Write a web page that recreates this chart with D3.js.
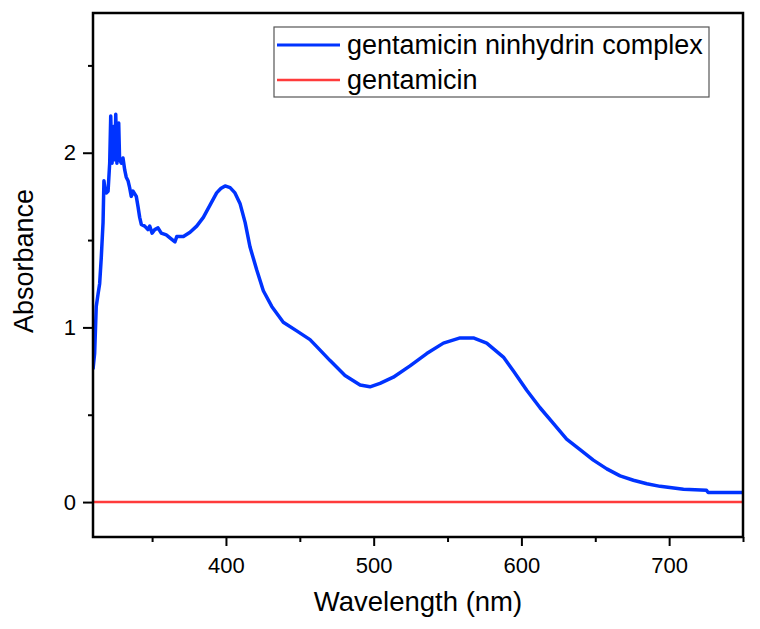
<!DOCTYPE html>
<html>
<head>
<meta charset="utf-8">
<script src="https://cdn.jsdelivr.net/npm/d3@7"></script>
<style>
  html, body { margin: 0; padding: 0; background: #fff; }
  svg { display: block; font-family: "Liberation Sans", Arial, sans-serif; }
</style>
</head>
<body>
<svg id="chart" width="760" height="629"></svg>
<script>
// ---- data ----
const wavelength = [310, 311.1, 312.2, 313.4, 314.5, 315.6, 316.8, 317.4, 318.3, 319, 320.2, 321.3, 322, 322.9, 323.8,
  324.7, 325.4, 326.2, 327.4, 328, 329.2, 330.3, 331.5, 332.5, 333.7, 334.8, 335.9, 337.1, 339.3, 340.5, 341.6,
  342.7, 345, 347.2, 348.4, 350, 351.8, 354, 356.2, 359.6, 362.5, 365.5, 366.7, 371.2, 375.7, 380.2, 384.7, 389.2,
  393.7, 396.5, 399.4, 402.8, 406.1, 409.5, 413, 416.3, 420.8, 425.3, 431, 438.8, 447.9, 456.9, 462.6, 470.5,
  480.6, 490.8, 497.5, 504.3, 513.3, 524.6, 535.9, 547.2, 558.5, 567.5, 576.5, 587.8, 594.6, 603.6, 612.6,
  621.6, 630.6, 639.7, 648.7, 657.8, 666.8, 675.8, 684.9, 693.9, 709.7, 725.3, 726.4, 750];
const complexAbs = [0.76, 0.85, 1.12, 1.19, 1.25, 1.40, 1.60, 1.84, 1.78, 1.77, 1.78, 1.94, 2.21, 1.94, 2.15,
  1.96, 2.22, 1.94, 2.17, 1.96, 1.94, 1.97, 1.90, 1.86, 1.84, 1.80, 1.75, 1.78, 1.75, 1.69, 1.63,
  1.59, 1.58, 1.56, 1.58, 1.54, 1.56, 1.57, 1.54, 1.53, 1.51, 1.49, 1.52, 1.52, 1.545, 1.58, 1.63, 1.70,
  1.77, 1.795, 1.81, 1.80, 1.77, 1.71, 1.60, 1.46, 1.33, 1.21, 1.12, 1.03, 0.98, 0.93, 0.88, 0.81,
  0.725, 0.67, 0.66, 0.68, 0.715, 0.78, 0.85, 0.91, 0.94, 0.94, 0.91, 0.83, 0.75, 0.64, 0.54,
  0.45, 0.36, 0.30, 0.24, 0.19, 0.15, 0.125, 0.105, 0.09, 0.073, 0.067, 0.055, 0.055];
const gentamicinWl = [310, 750];
const gentamicinAbs = [0, 0];
const seriesNames = ["gentamicin ninhydrin complex", "gentamicin"];
const seriesColors = ["#0033ff", "#ff3b3b"];
const xMajorTicks = [400, 500, 600, 700];
const xMinorTicks = [350, 450, 550, 650, 750];
const yMajorTicks = [0, 1, 2];
const yMinorTicks = [0.5, 1.5, 2.5];
const xLabel = "Wavelength (nm)";
const yLabel = "Absorbance";

// ---- layout ----
const svg = d3.select("#chart");
const L = 93, R = 743, T = 13, B = 537;
const x = d3.scaleLinear().domain([310, 750]).range([L, R]);
const y = d3.scaleLinear().domain([-0.2, 2.8]).range([B, T]);

const plot = svg.append("g");
plot.append("defs").append("clipPath").attr("id", "clip")
  .append("rect").attr("x", L).attr("y", T).attr("width", R - L).attr("height", B - T);

const line = d3.line().x(d => x(d[0])).y(d => y(d[1]));
const complexData = wavelength.map((w, i) => [w, complexAbs[i]]);
const gentData = gentamicinWl.map((w, i) => [w, gentamicinAbs[i]]);

plot.append("path").datum(gentData).attr("clip-path", "url(#clip)")
  .attr("fill", "none").attr("stroke", seriesColors[1]).attr("stroke-width", 2.5).attr("d", line);
plot.append("path").datum(complexData).attr("clip-path", "url(#clip)")
  .attr("fill", "none").attr("stroke", seriesColors[0]).attr("stroke-width", 3.5)
  .attr("stroke-linejoin", "round").attr("d", line);

// axes
const fontTick = 22;
const xAxis = d3.axisBottom(x).tickValues(xMajorTicks).tickSize(9).tickPadding(11).tickFormat(d3.format("d"));
const xMinor = d3.axisBottom(x).tickValues(xMinorTicks).tickSize(5).tickFormat("");
const yAxis = d3.axisLeft(y).tickValues(yMajorTicks).tickSize(10).tickPadding(7).tickFormat(d3.format("d"));
const yMinor = d3.axisLeft(y).tickValues(yMinorTicks).tickSize(5).tickFormat("");

function styleAxis(g) {
  g.select(".domain").remove();
  g.selectAll("line").attr("stroke", "#000").attr("stroke-width", 2);
  g.selectAll("text").attr("font-size", fontTick).attr("fill", "#000")
    .attr("font-family", "'Liberation Sans', Arial, sans-serif");
}
svg.append("g").attr("transform", `translate(0,${B})`).call(xAxis).call(styleAxis);
svg.append("g").attr("transform", `translate(0,${B})`).call(xMinor).call(styleAxis);
svg.append("g").attr("transform", `translate(${L},0)`).call(yAxis).call(styleAxis);
svg.append("g").attr("transform", `translate(${L},0)`).call(yMinor).call(styleAxis);

// frame
svg.append("rect").attr("x", L).attr("y", T).attr("width", R - L).attr("height", B - T)
  .attr("fill", "none").attr("stroke", "#000").attr("stroke-width", 2.5);

// axis titles
svg.append("text").attr("x", (L + R) / 2).attr("y", 611).attr("text-anchor", "middle")
  .attr("font-size", 27.5).text(xLabel);
svg.append("text").attr("transform", `translate(33,${261}) rotate(-90)`).attr("text-anchor", "middle")
  .attr("font-size", 27).text(yLabel);

// legend
const lg = svg.append("g");
lg.append("rect").attr("x", 274).attr("y", 27).attr("width", 435).attr("height", 70)
  .attr("fill", "#fff").attr("stroke", "#555").attr("stroke-width", 1.2);
seriesNames.forEach((name, i) => {
  const cy = 45 + i * 35;
  lg.append("line").attr("x1", 277).attr("x2", 340).attr("y1", cy).attr("y2", cy)
    .attr("stroke", seriesColors[i]).attr("stroke-width", i === 0 ? 3 : 2.5);
  lg.append("text").attr("x", 347).attr("y", cy + 9).attr("font-size", 27).text(name);
});
</script>
</body>
</html>
